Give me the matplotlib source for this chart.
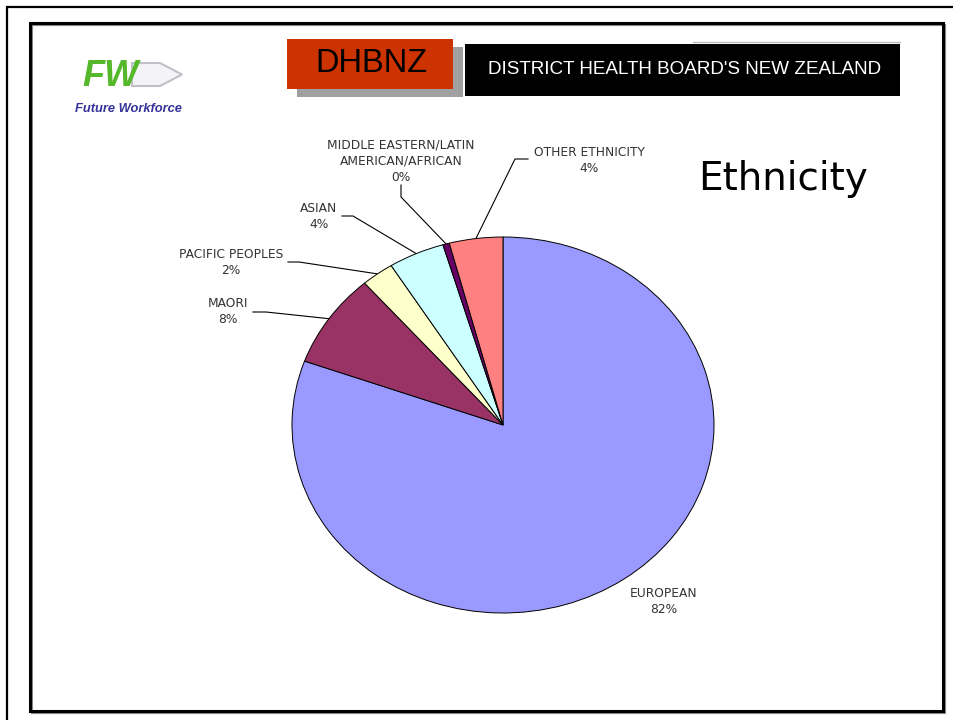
import matplotlib
matplotlib.use("Agg")
import matplotlib.pyplot as plt
from matplotlib.patches import Rectangle, Polygon
from matplotlib.lines import Line2D
import numpy as np

# ---------------- data ----------------
categories = ["EUROPEAN", "MAORI", "PACIFIC PEOPLES", "ASIAN",
              "MIDDLE EASTERN/LATIN\nAMERICAN/AFRICAN", "OTHER ETHNICITY"]
shares = [80.6, 8.1, 2.5, 4.3, 0.5, 4.1]
percent_labels = ["82%", "8%", "2%", "4%", "0%", "4%"]
colors = ["#9999FF", "#993366", "#FFFFCC", "#CCFFFF", "#660066", "#FF8080"]
title = "Ethnicity"

# ---------------- figure ----------------
W, H = 954, 720
fig = plt.figure(figsize=(W / 100, H / 100), dpi=100)
fig.patch.set_facecolor("white")
bg = fig.add_axes([0, 0, 1, 1])
bg.set_xlim(0, W)
bg.set_ylim(H, 0)
bg.axis("off")

# slide frames
bg.add_line(Line2D([7, 7, W], [H, 7, 7], color="black", lw=1.6, solid_joinstyle="miter"))
bg.add_patch(Rectangle((32, 25), 913, 688, fill=False, edgecolor="#888888", lw=1.5))
bg.add_patch(Rectangle((30, 23), 913, 688, fill=False, edgecolor="black", lw=2.2))

# header: DHBNZ box
bg.add_patch(Rectangle((297, 47), 166, 50, facecolor="#A0A0A0", edgecolor="none"))
bg.add_patch(Rectangle((287, 39), 166, 50, facecolor="#CC3300", edgecolor="none"))
bg.text(371, 64, "DHBNZ", ha="center", va="center", fontsize=23.5,
        family="Liberation Sans", color="black")
# black banner
bg.add_line(Line2D([693, 900], [42, 42], color="#BBBBBB", lw=1.0))
bg.add_patch(Rectangle((465, 44), 435, 52, facecolor="black", edgecolor="none"))
bg.text(685, 69, "DISTRICT HEALTH BOARD'S NEW ZEALAND", ha="center", va="center",
        fontsize=13.6, family="Liberation Sans", color="white")

# logo
bg.add_patch(Polygon([(132, 63), (160, 63), (182, 74.5), (160, 86), (132, 86)],
                     closed=True, facecolor="#F4F4F8", edgecolor="#C0C0C8", lw=1.5))
bg.text(110, 86, "FW", ha="center", va="baseline", fontsize=26, fontweight="bold",
        fontstyle="italic", family="Liberation Sans", color="#55B82A")
bg.text(128, 112, "Future Workforce", ha="center", va="baseline", fontsize=9.3,
        fontweight="bold", fontstyle="italic", family="Liberation Sans", color="#333399")

# title
bg.text(783, 190, title, ha="center", va="baseline", fontsize=28,
        family="DejaVu Sans", color="black")

# ---------------- pie ----------------
px0, px1, py0, py1 = 292, 714, 237, 613
ax = fig.add_axes([px0 / W, 1 - py1 / H, (px1 - px0) / W, (py1 - py0) / H])
wedges, _ = ax.pie(shares, colors=colors, startangle=90, counterclock=False,
                   wedgeprops=dict(edgecolor="black", linewidth=0.7))
for w in wedges:
    w.set_clip_on(False)
ax.set_aspect("auto")
ax.set_xlim(-1, 1)
ax.set_ylim(-1, 1)
ax.axis("off")

# label layout (text centre in pixels, leader elbow points)
layout = [
    (664, 601.5, None),
    (228, 311.5, [(253, 312), (266, 312)]),
    (231, 262.5, [(288, 262), (299, 262)]),
    (319, 216.5, [(342, 216), (353, 216)]),
    (401, 161.5, [(401, 185), (401, 197)]),
    (589, 160.5, [(528, 159), (515, 159)]),
]

inv = bg.transData.inverted()
for w, cat, pct, (tx, ty, elbow) in zip(wedges, categories, percent_labels, layout):
    bg.text(tx, ty, f"{cat}\n{pct}", ha="center", va="center", multialignment="center",
            fontsize=8.8, color="#333333", linespacing=1.3, family="DejaVu Sans")
    if elbow is not None:
        mid = np.deg2rad((w.theta1 + w.theta2) / 2)
        ex, ey = inv.transform(ax.transData.transform((np.cos(mid), np.sin(mid))))
        xs = [p[0] for p in elbow] + [ex]
        ys = [p[1] for p in elbow] + [ey]
        bg.add_line(Line2D(xs, ys, color="black", lw=0.8))

fig.savefig("out.png", dpi=100, facecolor="white")
